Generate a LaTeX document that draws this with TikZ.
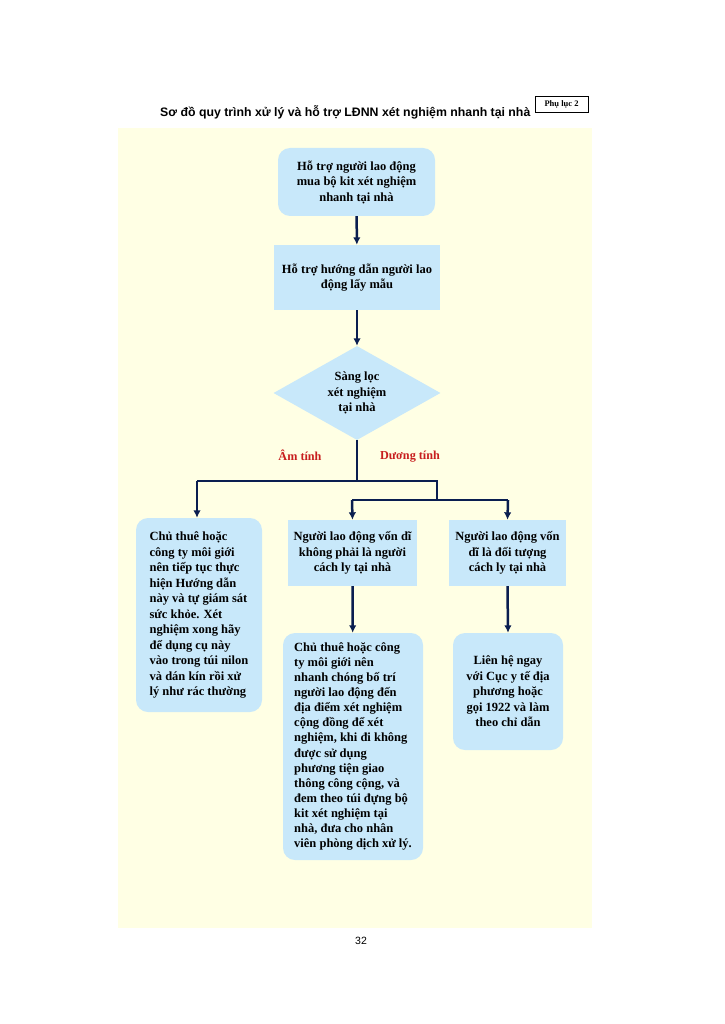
\documentclass[tikz,border=0pt]{standalone}
\usepackage{fontspec}
\setmainfont{Liberation Serif}
\newfontfamily\arialf{Liberation Sans}
\usetikzlibrary{shapes.geometric,arrows.meta}
\definecolor{bgyellow}{RGB}{255,255,228}
\definecolor{boxblue}{RGB}{200,232,250}
\definecolor{navy}{RGB}{10,30,80}
\definecolor{lblred}{RGB}{200,30,30}
\tikzset{
  txt/.style={font=\fontsize{12.5}{15.5}\selectfont\bfseries, text=black},
  rbox/.style={txt, fill=boxblue, draw=none, rounded corners=12pt, inner sep=0pt, align=center},
  sbox/.style={txt, fill=boxblue, draw=none, inner sep=0pt, align=center},
  dbox/.style={txt, fill=boxblue, draw=none, diamond, aspect=1.78, inner sep=0pt, align=center},
  conn/.style={navy, line width=2.5pt},
  arr/.style={conn, -{Latex[length=7.5pt,width=7.5pt]}},
  lbl/.style={font=\fontsize{12.2}{14}\selectfont\bfseries, text=lblred},
}
\begin{document}
\begin{tikzpicture}[x=1pt,y=-1pt]
\useasboundingbox (0,0) rectangle (724,1024);
\fill[white] (0,0) rectangle (724,1024);
\fill[bgyellow] (118,128) rectangle (592,928);
% title
\node[font=\arialf\fontsize{12.3}{14}\selectfont\bfseries, anchor=base west, inner sep=0pt] (title) at (160,117) {Sơ đồ quy trình xử lý và hỗ trợ LĐNN xét nghiệm nhanh tại nhà};
\node[draw=black, line width=0.5pt, fill=white, minimum width=53pt, minimum height=16pt, inner sep=0pt, font=\fontsize{8.5}{9}\selectfont\bfseries] (phuluc) at (561.5,104) {Phụ lục 2};
% nodes
\node[rbox, minimum width=157pt, minimum height=68pt] (n1) at (356.5,182) {Hỗ trợ người lao động\\mua bộ kit xét nghiệm\\nhanh tại nhà};
\node[sbox, minimum width=166pt, minimum height=65pt] (n2) at (357,277.5) {Hỗ trợ hướng dẫn người lao\\động lấy mẫu};
\node[dbox, minimum width=167pt, minimum height=94pt] (d) at (357,393) {Sàng lọc\\xét nghiệm\\tại nhà};
\node[rbox, minimum width=126pt, minimum height=194pt, align=left] (l) at (199,615) {Chủ thuê hoặc\\công ty môi giới\\nên tiếp tục thực\\hiện Hướng dẫn\\này và tự giám sát\\sức khỏe. Xét\\nghiệm xong hãy\\để dụng cụ này\\vào trong túi nilon\\và dán kín rồi xử\\lý như rác thường};
\node[sbox, minimum width=129pt, minimum height=66pt] (m) at (352.5,553) {Người lao động vốn dĩ\\không phải là người\\cách ly tại nhà};
\node[sbox, minimum width=117pt, minimum height=66pt] (r) at (507.5,553) {Người lao động vốn\\dĩ là đối tượng\\cách ly tại nhà};
\node[rbox, minimum width=140pt, minimum height=227pt, align=left, font=\fontsize{12.5}{15.1}\selectfont\bfseries] (mb) at (353,746.5) {Chủ thuê hoặc công\\ty môi giới nên\\nhanh chóng bố trí\\người lao động đến\\địa điểm xét nghiệm\\cộng đồng để xét\\nghiệm, khi đi không\\được sử dụng\\phương tiện giao\\thông công cộng, và\\đem theo túi đựng bộ\\kit xét nghiệm tại\\nhà, đưa cho nhân\\viên phòng dịch xử lý.};
\node[rbox, minimum width=110pt, minimum height=117pt] (rb) at (508,691.5) {Liên hệ ngay\\với Cục y tế địa\\phương hoặc\\gọi 1922 và làm\\theo chỉ dẫn};
% branch coordinates
\coordinate (j1) at (357,481);
\coordinate (jl) at (197,481);
\coordinate (jr) at (437,481);
\coordinate (k) at (437,500);
\coordinate (km) at (352,500);
\coordinate (kr) at (508,500);
% connectors
\draw[arr] (n1) -- (n2);
\draw[arr] (n2) -- (d);
\draw[conn] (d.south) -- (j1);
\draw[conn] (jl) -- (jr) -- (k);
\draw[arr] (jl) -- (jl |- l.north);
\draw[conn] (km) -- (kr);
\draw[arr] (km) -- (m.north);
\draw[arr] (kr) -- (r.north);
\draw[arr] (m) -- (mb);
\draw[arr] (r.south) -- (rb.north);
% labels
\node[lbl] (am) at (300,455) {Âm tính};
\node[lbl] (duong) at (410,457) {Dương tính};
% page number
\node[font=\arialf\fontsize{10.5}{12}\selectfont] (pg) at (361,941) {32};
\end{tikzpicture}
\end{document}
